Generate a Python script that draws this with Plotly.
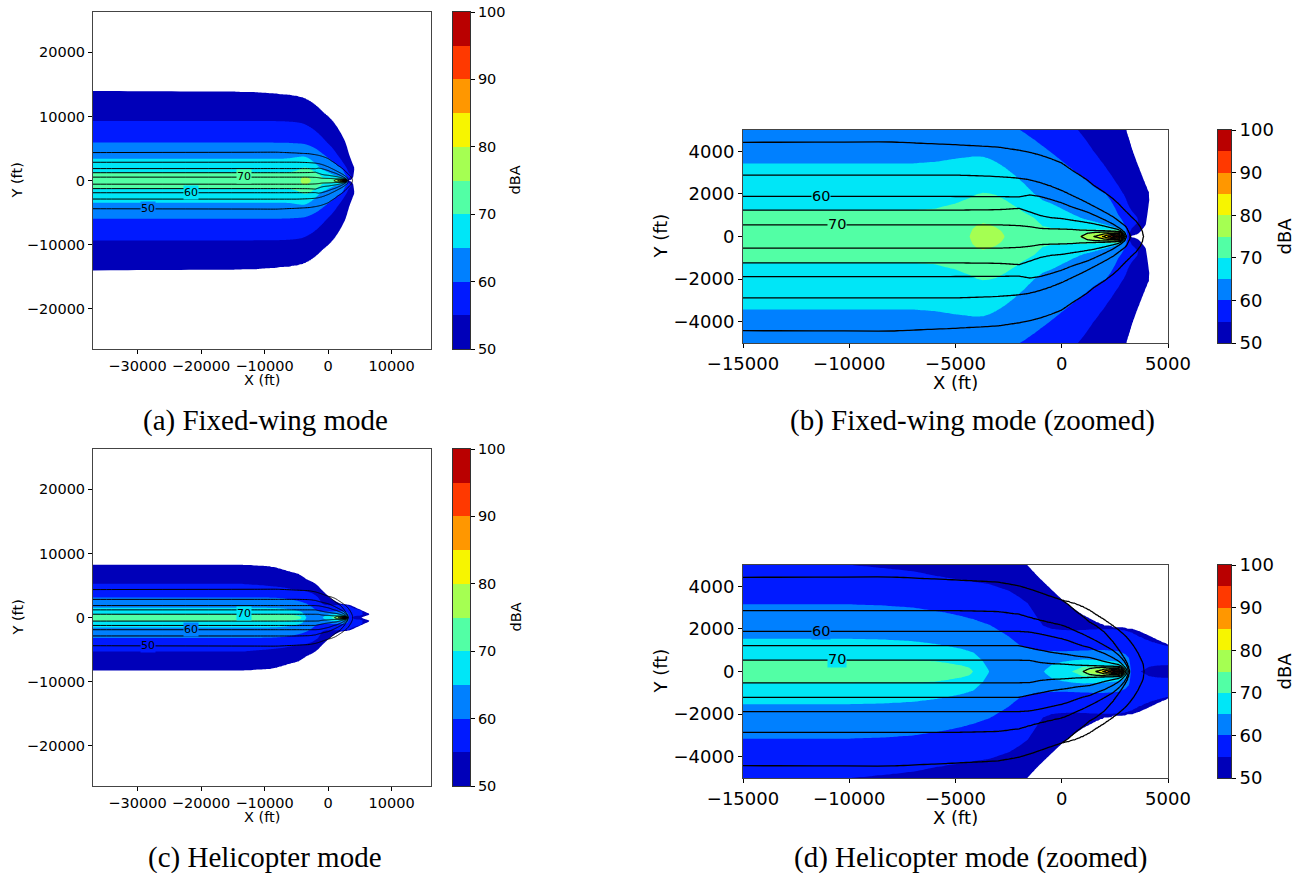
import numpy as np
import plotly.graph_objects as go

W, H = 1302, 873

# ---------------- levels / ticks ----------------
LEVELS_START, LEVELS_END, LEVELS_STEP = 50, 100, 5
BAND_BOTTOMS = [50, 55, 60, 65, 70, 75, 80, 85, 90, 95]
CB_TICKS = [50, 60, 70, 80, 90, 100]
WIDE_XTICKS = [-30000, -20000, -10000, 0, 10000]
WIDE_YTICKS = [-20000, -10000, 0, 10000, 20000]
ZOOM_XTICKS = [-15000, -10000, -5000, 0, 5000]
ZOOM_YTICKS = [-4000, -2000, 0, 2000, 4000]

# ---------------- Fixed-wing: filled field (half-widths in ft of each dBA level) ----------------
FW_FILL_X = [-37000, -15000, -10000, -7000, -6000, -5000, -4350, -4200, -4000, -3700, -3400, -3100, -2850, -2670,
             -2250, -1800, -1300, -900, -500, 0, 500, 1000, 1500, 1800, 2100, 2300, 2500, 2650, 2800, 2900, 3000,
             3100, 3200, 3300, 3550, 3750, 3950, 4100, 4250, 16500]
FW_FILL_C0 = [73.5, 73.5, 73.5, 73.6, 73.8, 74.2, 74.9, 76.0, 76.8, 77.5, 77.2, 76.5, 75.8, 74.9, 74.3, 73.8, 73.5,
              73.3, 73.2, 73.3, 73.8, 75.5, 78.0, 80.5, 84.0, 90.5, 97.0, 99.5, 93.0, 79.5, 68.0, 58.0, 51.0, 49.5,
              49.0, 48.5, 48.0, 46.0, 45.0, 30.0]
FW_FILL_PY = [0] * 32 + [300, 500, 700, 900, 1000, 1700, 1800, 0]
FW_FILL_PZ = [0] * 32 + [57.0, 56.5, 55.5, 53.0, 51.6, 50.3, 48.0, 30.0]
FW_FILL_W50 = [14000, 13950, 13750, 13500, 13400, 13250, 13100, 13050, 13000, 12900, 12750, 12600, 12450, 12350,
               12050, 11700, 11250, 10850, 10500, 10100, 9600, 9000, 8300, 7800, 7300, 6900, 6500, 6200, 5800, 5500,
               5200, 4800, 4500, 4150, 3450, 2950, 2450, 2100, 0, 0]
FW_FILL_W55 = [9300, 9300, 9300, 9250, 9200, 9100, 9000, 8970, 8900, 8800, 8650, 8500, 8350, 8250, 7950, 7600, 7150,
               6750, 6300, 5800, 5300, 4700, 4000, 3600, 3200, 2900, 2600, 2400, 2150, 2000, 1800, 1550, 1350, 1200,
               900, 0, 0, 0, 0, 0]
FW_FILL_W60 = [5940, 5940, 5940, 5920, 5880, 5820, 5780, 5770, 5750, 5700, 5620, 5520, 5420, 5350, 5150, 4900, 4550,
               4250, 3950, 3550, 3150, 2750, 2350, 2150, 1970, 1700, 1350, 1030, 820, 650, 400] + [0] * 9
FW_FILL_W65 = [3425, 3425, 3425, 3430, 3500, 3650, 3730, 3750, 3760, 3740, 3650, 3500, 3350, 3230, 2900, 2500, 2000,
               1700, 1550, 1300, 1050, 830, 700, 620, 540, 480, 420, 370, 330, 280, 150] + [0] * 9
FW_FILL_W70 = [1234, 1234, 1234, 1240, 1300, 1550, 1800, 1880, 1980, 2050, 2020, 1950, 1820, 1720, 1450, 1150, 875,
               485, 400, 380, 350, 340, 330, 320, 310, 310, 310, 300, 270, 200] + [0] * 10
FW_FILL_W75 = [0] * 7 + [350, 530, 620, 560, 430, 260, 0] + [0] * 7 + [80, 180, 200, 210, 220, 230, 230, 200, 100] + [0] * 10
FW_FILL_W80 = [0] * 23 + [60, 120, 150, 160, 165, 140] + [0] * 11

# ---------------- Fixed-wing: line field ----------------
FW_LINE_X = [-37000, -8000, -5000, -3000, -2000, -1500, -1000, -500, 0, 500, 900, 1200, 1500, 2000, 2400, 2650,
             2800, 2950, 3050, 3250, 3500, 3700, 3900, 4100, 16500]
FW_LINE_C0 = [73, 73, 73, 73, 73, 73, 73, 73, 73.5, 74.2, 74.9, 77, 79.9, 86, 95, 99.5, 90, 69.5, 59.5, 54.5, 53,
              51.5, 49.5, 45, 30]
FW_LINE_W50 = [4380, 4440, 4310, 4200, 4050, 3950, 3820, 3650, 3450, 3100, 2850, 2650, 2400, 2080, 1780, 1560, 1400,
               1250, 1150, 950, 720, 450, 0, 0, 0]
FW_LINE_W55 = [2860, 2880, 2880, 2810, 2730, 2650, 2520, 2350, 2150, 1920, 1730, 1580, 1420, 1160, 930, 750, 640,
               520, 420] + [0] * 6
FW_LINE_W60 = [1880, 1880, 1875, 1870, 1860, 1950, 1880, 1740, 1580, 1380, 1250, 1150, 1020, 790, 590, 430, 330,
               200] + [0] * 7
FW_LINE_W65 = [1240, 1240, 1240, 1260, 1320, 1150, 980, 880, 840, 760, 700, 650, 600, 490, 390, 330, 260, 120] + [0] * 7
FW_LINE_W70 = [550, 550, 550, 550, 510, 460, 380, 360, 350, 330, 300, 290, 280, 265, 250, 240, 220] + [0] * 8
FW_LINE_W75 = [0] * 11 + [150, 190, 210, 215, 205, 170] + [0] * 8
FW_LINE_W80 = [0] * 13 + [120, 150, 150, 110] + [0] * 8

# ---------------- Helicopter: filled field ----------------
H_FILL_X = [-37000, -13800, -10000, -8400, -7000, -6000, -5400, -4700, -4350, -4140, -3720, -3400, -2500, -2000,
            -1600, -1200, -880, -500, 0, 480, 1000, 1500, 2000, 2400, 2650, 2850, 3000, 3150, 3300, 3600, 4100, 4500,
            5000, 5800, 6400, 6800, 16500]
H_FILL_C0 = [72.5, 72.5, 72.5, 72.5, 72.3, 72.0, 71.5, 71.0, 70.6, 69.9, 66.5, 64.9, 63.5, 63.3, 63.3, 63.8, 64.9,
             66.0, 67.5, 69.9, 75.2, 78.0, 84.0, 92.0, 99.5, 90.0, 72.0, 64.0, 58.0, 55.5, 53.5, 52.5, 52.0, 46.0,
             43.0, 40.0, 30.0]
H_FILL_PY = [0] * 30 + [500, 480, 450, 450, 470, 470, 0]
H_FILL_PZ = [0] * 30 + [57.0, 56.8, 56.5, 54.0, 50.8, 47.0, 30.0]
H_FILL_W50 = [8270, 8270, 8100, 7900, 7500, 7200, 7050, 6860, 6650, 6520, 6250, 6000, 5600, 5300, 4980, 4550, 4230,
              3870, 3390, 3000, 2650, 2380, 2150, 2080, 2050, 2030, 2010, 2000, 1990, 1900, 1680, 1480, 1260, 900,
              650, 0, 0]
H_FILL_W55 = [5290, 5290, 5000, 4850, 4700, 4500, 4400, 4300, 4250, 4200, 4150, 4100, 3800, 3500, 3200, 2600, 2150,
              2000, 1950, 1930, 1950, 1980, 2000, 2000, 1980, 1960, 1930, 1880, 1830, 1680, 1450, 1330, 1200, 700,
              0, 0, 0]
H_FILL_W60 = [3150, 3150, 3150, 3100, 3000, 2850, 2750, 2600, 2500, 2450, 2300, 2200, 1650, 1250, 1100, 1000, 980,
              960, 950, 960, 980, 1000, 1000, 980, 950, 880, 800, 650] + [0] * 9
H_FILL_W65 = [1530, 1530, 1530, 1500, 1420, 1300, 1200, 1060, 950, 880, 500, 0, 0, 0, 0, 0, 0, 300, 450, 520, 560,
              550, 520, 480, 450, 400, 280] + [0] * 10
H_FILL_W70 = [535, 535, 535, 530, 520, 480, 400, 280, 180, 0] + [0] * 10 + [220, 250, 260, 260, 260, 220, 100] + [0] * 10
H_FILL_W75 = [0] * 20 + [20, 120, 160, 170, 170, 120] + [0] * 11
H_FILL_W80 = [0] * 22 + [80, 120, 140, 80] + [0] * 11

# ---------------- Helicopter: line field ----------------
H_LINE_X = [-37000, -8000, -5000, -3000, -2000, -1500, -1000, -500, 0, 300, 700, 1000, 1300, 1600, 2000, 2400, 2650,
            2800, 2950, 3050, 3200, 3400, 3600, 3800, 3900, 4100, 16500]
H_LINE_C0 = [73, 73, 73, 73, 73, 73, 73, 73, 73.5, 73.8, 74.5, 74.9, 77.5, 79.9, 86, 95, 99.5, 90, 69.5, 62, 49.5,
             49, 48.8, 48.6, 48.5, 45, 30]
H_LINE_W50 = [4380, 4440, 4300, 4200, 4020, 3870, 3700, 3520, 3360, 3150, 2800, 2580, 2320, 2150, 1850, 1400, 1050,
              830, 600, 420] + [0] * 7
H_LINE_W55 = [2840, 2850, 2850, 2810, 2680, 2530, 2400, 2280, 2170, 2060, 1880, 1750, 1600, 1450, 1230, 1000, 800,
              650, 480, 300] + [0] * 7
H_LINE_W60 = [1880, 1880, 1880, 1880, 1880, 1850, 1760, 1650, 1540, 1450, 1300, 1200, 1130, 1000, 850, 650, 500, 380,
              220, 100] + [0] * 7
H_LINE_W65 = [1215, 1215, 1215, 1215, 1210, 1100, 1000, 900, 830, 790, 720, 690, 660, 580, 470, 380, 330, 260,
              120] + [0] * 8
H_LINE_W70 = [535, 535, 535, 535, 530, 520, 420, 370, 350, 330, 300, 290, 275, 265, 255, 245, 235, 210] + [0] * 9
H_LINE_W75 = [0] * 12 + [140, 180, 200, 210, 200, 160] + [0] * 9
H_LINE_W80 = [0] * 14 + [110, 140, 145, 100] + [0] * 9
# outer branch of the 50 dBA line (arc around the rotor position)
H_ARC_X = [60, 300, 700, 1000, 1300, 1600, 2000, 2400, 2650, 2800, 2950, 3050, 3200, 3400, 3600, 3800, 3900]
H_ARC_C0 = [54] * 16 + [49]
H_ARC_W50 = [3360, 3300, 3180, 3050, 2900, 2700, 2450, 2170, 1980, 1850, 1720, 1620, 1450, 1180, 850, 420, 0]

# ---------------- contour labels ----------------
WIDE_LABEL_TEXT = ["70", "60", "50"]
WIDE_LABEL_X = [-13300, -21600, -28300]
WIDE_LABEL_Y = [600, -1800, -4300]
ZOOM_LABEL_TEXT = ["60", "70"]
ZOOM_LABEL_X = [-11320, -10590]
ZOOM_LABEL_Y = [1900, 570]

CAPTIONS = ["(a) Fixed-wing mode", "(b) Fixed-wing mode (zoomed)", "(c) Helicopter mode",
            "(d) Helicopter mode (zoomed)"]

# ---------------- styles ----------------
JET = ["#0000b9", "#001aff", "#0080ff", "#00e6f7", "#52ffa5", "#a5ff52", "#f7f500", "#ff9700", "#ff3900", "#b90000"]
BAND_BG = {"50": "#0080ff", "60": "#00e6f7", "70": "#52ffa5"}
H_BAND_BG = {"50": "#001aff", "60": "#0080ff", "70": "#00e6f7"}
FONT = "DejaVu Sans"

# rendering grid in y (offset slightly so nodes never sit exactly on a knot)
Y_HALF = np.unique(np.concatenate([np.arange(0, 600, 15), np.arange(600, 2000, 35), np.arange(2000, 6000, 80),
                                   np.arange(6000, 15000, 200), np.arange(15000, 28001, 1500)])).astype(float)
Y_HALF[1:] += 3.7
Y_FULL = np.concatenate([-Y_HALF[:0:-1], Y_HALF])
KNOT_LEVELS = [80, 75, 70, 65, 60, 55, 50]


def make_field(xs, c0, widths, py=None, pz=None):
    xs = np.asarray(xs, float)
    c0 = np.asarray(c0, float)
    n = len(xs)
    py = np.zeros(n) if py is None else np.asarray(py, float)
    pz = c0.copy() if pz is None else np.where(py > 0, np.asarray(pz, float), c0)
    parts = []
    for i in range(n - 1):
        k = int(np.clip(np.ceil((xs[i + 1] - xs[i]) / 50.0), 2, 8))
        parts.append(np.linspace(xs[i], xs[i + 1], k + 1))
    xf = np.unique(np.concatenate(parts))

    def itp(a):
        return np.interp(xf, xs, np.asarray(a, float))

    c0f, pyf, pzf = itp(c0), itp(py), itp(pz)
    wf = {L: itp(widths[L]) for L in widths}
    cols = []
    for j in range(len(xf)):
        ys = [0.0]
        zs = [c0f[j]]
        top = c0f[j]
        if pyf[j] > 1:
            ys.append(pyf[j]); zs.append(pzf[j]); top = pzf[j]
        for L in KNOT_LEVELS:
            w = wf[L][j] if L in wf else 0.0
            if top > L + 0.05 and w > ys[-1] + 1:
                ys.append(w); zs.append(float(L))
        b = ys[-1]
        zl = min(zs[-1], 50.0)
        ys += [b + 3000, 1e6]
        zs += [zl - 12, 0.0]
        cols.append(np.interp(Y_HALF, ys, zs))
    zh = np.array(cols).T
    z = np.vstack([zh[:0:-1], zh])
    return xf, np.round(z, 2)


fw_fill = make_field(FW_FILL_X, FW_FILL_C0,
                     {50: FW_FILL_W50, 55: FW_FILL_W55, 60: FW_FILL_W60, 65: FW_FILL_W65, 70: FW_FILL_W70,
                      75: FW_FILL_W75, 80: FW_FILL_W80}, FW_FILL_PY, FW_FILL_PZ)
fw_line = make_field(FW_LINE_X, FW_LINE_C0,
                     {50: FW_LINE_W50, 55: FW_LINE_W55, 60: FW_LINE_W60, 65: FW_LINE_W65, 70: FW_LINE_W70,
                      75: FW_LINE_W75, 80: FW_LINE_W80})
h_fill = make_field(H_FILL_X, H_FILL_C0,
                    {50: H_FILL_W50, 55: H_FILL_W55, 60: H_FILL_W60, 65: H_FILL_W65, 70: H_FILL_W70,
                     75: H_FILL_W75, 80: H_FILL_W80}, H_FILL_PY, H_FILL_PZ)
h_line = make_field(H_LINE_X, H_LINE_C0,
                    {50: H_LINE_W50, 55: H_LINE_W55, 60: H_LINE_W60, 65: H_LINE_W65, 70: H_LINE_W70,
                     75: H_LINE_W75, 80: H_LINE_W80})
h_arc = make_field(H_ARC_X, H_ARC_C0, {50: H_ARC_W50})

# contour fill colour scale: band k (k=0 below 50 ... k=11 above 100) sampled at k/11
band_cols = ["#ffffff"] + JET + [JET[-1]]
FILL_SCALE = []
for k, c in enumerate(band_cols):
    FILL_SCALE += [[max(0.0, (k - 0.5) / 11), c], [min(1.0, (k + 0.5) / 11), c]]
CB_SCALE = []
for k, c in enumerate(JET):
    CB_SCALE += [[k / 10, c], [(k + 1) / 10, c]]


def minus(v):
    return ("\u2212" + str(abs(v))) if v < 0 else str(v)


# panel geometry in pixels: (left, right, top, bottom); xtl / ytl = axis-title centres
PANELS = {
    "a": dict(box=(93, 431, 12, 349), xr=[-37000, 16200], yr=[-26250, 26300], xt=WIDE_XTICKS, yt=WIDE_YTICKS,
              fs=14.5, cbx=453, cbw=17, dbx=515, lw=1.0, data=[fw_fill, fw_line], lab="wide", bg=BAND_BG,
              xtl=380, ytl=17),
    "b": dict(box=(743, 1168, 130, 343), xr=[-15000, 5000], yr=[-5000, 5000], xt=ZOOM_XTICKS, yt=ZOOM_YTICKS,
              fs=18, cbx=1218, cbw=13, dbx=1284, lw=1.3, data=[fw_fill, fw_line], lab="zoom", bg=BAND_BG,
              xtl=382, ytl=660),
    "c": dict(box=(93, 431, 449, 786), xr=[-37000, 16200], yr=[-26250, 26300], xt=WIDE_XTICKS, yt=WIDE_YTICKS,
              fs=14.5, cbx=453, cbw=17, dbx=515, lw=1.0, data=[h_fill, h_line, h_arc], lab="wide", bg=H_BAND_BG,
              xtl=817, ytl=17),
    "d": dict(box=(743, 1168, 565, 778), xr=[-15000, 5000], yr=[-5000, 5000], xt=ZOOM_XTICKS, yt=ZOOM_YTICKS,
              fs=18, cbx=1218, cbw=13, dbx=1284, lw=1.3, data=[h_fill, h_line, h_arc], lab="zoom", bg=H_BAND_BG,
              xtl=817, ytl=660),
}
CAPTION_POS = {"a": (265, 420), "b": (972, 420), "c": (265, 857), "d": (971, 857)}

fig = go.Figure()
annotations = []
layout = dict(width=W, height=H, margin=dict(l=0, r=0, t=0, b=0), paper_bgcolor="white", plot_bgcolor="white",
              showlegend=False, font=dict(family=FONT, color="black"))

ax_id = 0
for i, (key, p) in enumerate(PANELS.items()):
    l, r, t, b = p["box"]
    # main axes
    ax_id += 1
    n = "" if ax_id == 1 else str(ax_id)
    xa, ya = "x" + n, "y" + n
    (xf_fill, z_fill) = p["data"][0]
    fig.add_trace(go.Contour(x=xf_fill, y=Y_FULL, z=z_fill, xaxis=xa, yaxis=ya,
                             contours=dict(start=LEVELS_START, end=LEVELS_END, size=LEVELS_STEP, coloring="fill",
                                           showlines=False),
                             colorscale=FILL_SCALE, showscale=False, line=dict(width=0), hoverinfo="skip"))
    for (xf_line, z_line) in p["data"][1:]:
        fig.add_trace(go.Contour(x=xf_line, y=Y_FULL, z=z_line, xaxis=xa, yaxis=ya,
                                 contours=dict(start=LEVELS_START, end=LEVELS_END, size=LEVELS_STEP,
                                               coloring="none"),
                                 line=dict(color="black", width=p["lw"]), showscale=False, hoverinfo="skip"))
    axis_common = dict(showgrid=False, zeroline=False, showline=True, mirror=True, linecolor="#444444",
                       linewidth=1, ticks="outside", ticklen=4, tickcolor="black", automargin=False,
                       tickfont=dict(family=FONT, size=p["fs"], color="black"))
    layout["xaxis" + n] = dict(axis_common, domain=[l / W, r / W], range=p["xr"], anchor=ya,
                               tickvals=p["xt"], ticktext=[minus(v) for v in p["xt"]])
    layout["yaxis" + n] = dict(axis_common, domain=[1 - b / H, 1 - t / H], range=p["yr"], anchor=xa,
                               tickvals=p["yt"], ticktext=[minus(v) for v in p["yt"]])
    # axis titles
    annotations.append(dict(x=(l + r) / 2 / W, y=1 - p["xtl"] / H, xref="paper", yref="paper", text="X (ft)",
                            showarrow=False, xanchor="center", yanchor="middle",
                            font=dict(family=FONT, size=p["fs"], color="black")))
    annotations.append(dict(x=p["ytl"] / W, y=1 - (t + b) / 2 / H, xref="paper", yref="paper", text="Y (ft)",
                            textangle=-90, showarrow=False, xanchor="center", yanchor="middle",
                            font=dict(family=FONT, size=p["fs"], color="black")))
    # contour labels
    if p["lab"] == "wide":
        texts, lx, ly, lfs = WIDE_LABEL_TEXT, WIDE_LABEL_X, WIDE_LABEL_Y, 11
    else:
        texts, lx, ly, lfs = ZOOM_LABEL_TEXT, ZOOM_LABEL_X, ZOOM_LABEL_Y, 14.5
    for tx, xv, yv in zip(texts, lx, ly):
        annotations.append(dict(x=xv, y=yv, xref=xa, yref=ya, text=tx, showarrow=False,
                                font=dict(family=FONT, size=lfs, color="black"),
                                bgcolor=p["bg"][tx], borderpad=0, xanchor="center", yanchor="middle"))
    # colour bar drawn as its own small axes
    ax_id += 1
    m = str(ax_id)
    cxa, cya = "x" + m, "y" + m
    fig.add_trace(go.Heatmap(x=[0.5], y=[v + LEVELS_STEP / 2 for v in BAND_BOTTOMS],
                             z=[[v + LEVELS_STEP / 2] for v in BAND_BOTTOMS], xaxis=cxa, yaxis=cya,
                             colorscale=CB_SCALE, zmin=LEVELS_START, zmax=LEVELS_END, showscale=False,
                             hoverinfo="skip"))
    layout["xaxis" + m] = dict(domain=[p["cbx"] / W, (p["cbx"] + p["cbw"]) / W], range=[0, 1], anchor=cya,
                               showgrid=False, zeroline=False, showticklabels=False, ticks="", showline=True,
                               mirror=True, linecolor="#333333", linewidth=1, automargin=False, fixedrange=True)
    layout["yaxis" + m] = dict(domain=[1 - b / H, 1 - t / H], range=[LEVELS_START, LEVELS_END], anchor=cxa,
                               side="right", showgrid=False, zeroline=False, showline=True, mirror=True,
                               linecolor="#333333", linewidth=1, ticks="outside", ticklen=4, tickcolor="black",
                               tickvals=CB_TICKS, automargin=False, fixedrange=True,
                               tickfont=dict(family=FONT, size=p["fs"], color="black"))
    annotations.append(dict(x=p["dbx"] / W, y=1 - (t + b) / 2 / H, xref="paper", yref="paper", text="dBA",
                            textangle=-90, showarrow=False, xanchor="center", yanchor="middle",
                            font=dict(family=FONT, size=p["fs"], color="black")))
    cx, cy = CAPTION_POS[key]
    annotations.append(dict(x=cx / W, y=1 - cy / H, xref="paper", yref="paper", text=CAPTIONS[i],
                            showarrow=False, xanchor="center", yanchor="middle",
                            font=dict(family="Liberation Serif", size=29, color="black")))

layout["annotations"] = annotations
fig.update_layout(**layout)
fig.write_html("out.html")
